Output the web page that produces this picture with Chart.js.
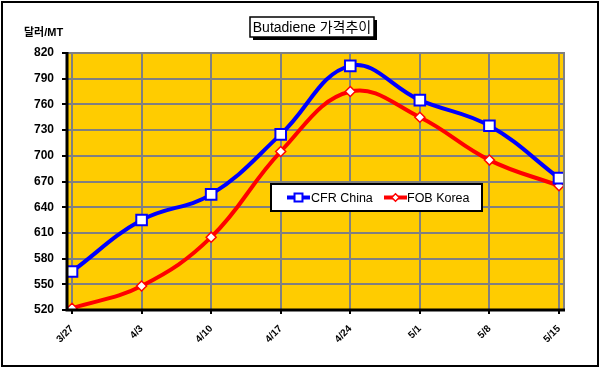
<!DOCTYPE html>
<html>
<head>
<meta charset="utf-8">
<script src="https://cdn.jsdelivr.net/npm/chart.js@4.4.1/dist/chart.umd.min.js"></script>
<style>
  html, body { margin: 0; padding: 0; background: #fff; }
  canvas { display: block; }
</style>
</head>
<body>
<canvas id="bd-chart" width="601" height="370"></canvas>
<script>
// chart data
const weeks = ['3/27', '4/3', '4/10', '4/17', '4/24', '5/1', '5/8', '5/15'];
const cfrChina = [565, 625, 655, 725, 805, 765, 735, 674];
const fobKorea = [522, 548, 605, 705, 775, 745, 695, 665];
const yTicks = [520, 550, 580, 610, 640, 670, 700, 730, 760, 790, 820];

const titleText = 'Butadiene 가격추이';
const unitText = '달러/MT';
const latin = '"Liberation Sans", Arial, sans-serif';
const hangul = '"Liberation Sans", "Noto Sans CJK KR", sans-serif';

// background, frame, title, unit label, legend
const decorations = {
    id: 'decorations',
    beforeDraw(chart) {
        const ctx = chart.ctx;
        const a = chart.chartArea;
        ctx.save();
        ctx.fillStyle = '#fff';
        ctx.fillRect(0, 0, chart.width, chart.height);
        ctx.strokeStyle = '#000';
        ctx.lineWidth = 2;
        ctx.strokeRect(2, 2, 596, 364);
        ctx.fillStyle = '#FFCC00';
        ctx.fillRect(a.left, a.top, a.right - a.left, a.bottom - a.top);
        ctx.restore();
    },
    afterDatasetsDraw(chart) {
        const ctx = chart.ctx;
        const a = chart.chartArea;
        ctx.save();
        // plot frame
        ctx.strokeStyle = '#808080';
        ctx.lineWidth = 2;
        ctx.beginPath();
        ctx.moveTo(a.left, a.top);
        ctx.lineTo(a.right, a.top);
        ctx.lineTo(a.right, a.bottom);
        ctx.stroke();
        ctx.strokeStyle = '#000';
        ctx.lineWidth = 3;
        ctx.beginPath();
        ctx.moveTo(a.left, a.top - 1);
        ctx.lineTo(a.left, a.bottom);
        ctx.lineTo(a.right + 1, a.bottom);
        ctx.stroke();

        // title box with shadow
        ctx.font = '14px ' + hangul;
        const tw = ctx.measureText(titleText).width;
        const cx = 312, cy = 27;
        const bx = Math.round(cx - tw / 2 - 3), bw = Math.round(tw + 6);
        ctx.fillStyle = '#000';
        ctx.fillRect(bx + 3, 20, bw, 20);
        ctx.fillStyle = '#fff';
        ctx.fillRect(bx, 17, bw, 20);
        ctx.lineWidth = 1.5;
        ctx.strokeRect(bx, 17, bw, 20);
        ctx.fillStyle = '#000';
        ctx.textAlign = 'center';
        ctx.textBaseline = 'middle';
        ctx.fillText(titleText, cx, cy + 1);

        // unit label
        ctx.font = 'bold 11px ' + hangul;
        ctx.textAlign = 'left';
        ctx.fillText(unitText, 24, 33);

        // legend
        const lx = 271, ly = 184, lw = 211, lh = 27;
        ctx.fillStyle = '#fff';
        ctx.fillRect(lx, ly, lw, lh);
        ctx.strokeStyle = '#000';
        ctx.lineWidth = 2;
        ctx.strokeRect(lx, ly, lw, lh);
        const my = ly + lh / 2;
        const entries = [
            { ds: chart.data.datasets[0], x0: 287, x1: 310, tx: 311 },
            { ds: chart.data.datasets[1], x0: 384, x1: 407, tx: 407 }
        ];
        ctx.font = '12.5px ' + latin;
        entries.forEach(e => {
            ctx.strokeStyle = e.ds.borderColor;
            ctx.lineWidth = 4;
            ctx.beginPath();
            ctx.moveTo(e.x0, my);
            ctx.lineTo(e.x1, my);
            ctx.stroke();
            ctx.fillStyle = e.ds.pointBackgroundColor;
            ctx.strokeStyle = e.ds.pointBorderColor;
            ctx.lineWidth = e.ds.pointBorderWidth;
            Chart.helpers.drawPoint(ctx, {
                pointStyle: e.ds.pointStyle,
                radius: e.ds.pointRadius * 0.75,
                borderWidth: e.ds.pointBorderWidth
            }, (e.x0 + e.x1) / 2, my);
            ctx.fillStyle = '#000';
            ctx.textAlign = 'left';
            ctx.fillText(e.ds.label, e.tx, my + 1);
        });
        ctx.restore();
    }
};

const ctx = document.getElementById('bd-chart').getContext('2d');
const chart = new Chart(ctx, {
    type: 'line',
    data: {
        datasets: [
            {
                label: 'CFR China',
                data: cfrChina.map((v, i) => ({ x: i, y: v })),
                borderColor: '#0000FF',
                borderWidth: 4,
                tension: 0.4,
                pointStyle: 'rect',
                pointRadius: 7.5,
                pointBackgroundColor: '#fff',
                pointBorderColor: '#0000FF',
                pointBorderWidth: 2
            },
            {
                label: 'FOB Korea',
                data: fobKorea.map((v, i) => ({ x: i, y: v })),
                borderColor: '#FF0000',
                borderWidth: 4,
                tension: 0.4,
                pointStyle: 'rectRot',
                pointRadius: 5,
                pointBackgroundColor: '#fff',
                pointBorderColor: '#FF0000',
                pointBorderWidth: 1.5
            }
        ]
    },
    options: {
        responsive: false,
        animation: false,
        layout: { padding: { left: 0, top: 53, right: 37, bottom: 0 } },
        plugins: {
            legend: { display: false },
            tooltip: { enabled: false }
        },
        scales: {
            x: {
                type: 'linear',
                min: -0.072,
                max: 7.072,
                afterBuildTicks: axis => {
                    axis.ticks = weeks.map((w, i) => ({ value: i }));
                },
                afterFit: axis => { axis.height = 60; },
                grid: {
                    color: '#808080',
                    lineWidth: 2,
                    tickColor: '#000',
                    tickLength: 4,
                    drawTicks: true
                },
                border: { display: false },
                ticks: {
                    callback: v => weeks[v],
                    minRotation: 45,
                    maxRotation: 45,
                    color: '#000',
                    padding: 9,
                    font: { family: latin, size: 10, weight: 'bold' }
                }
            },
            y: {
                min: 520,
                max: 820,
                afterBuildTicks: axis => {
                    axis.ticks = yTicks.map(v => ({ value: v }));
                },
                afterFit: axis => { axis.width = 67; },
                grid: {
                    color: '#808080',
                    lineWidth: 2,
                    tickColor: '#000',
                    tickLength: 5
                },
                border: { display: false },
                ticks: {
                    color: '#000',
                    padding: 8,
                    font: { family: latin, size: 12, weight: 'bold' }
                }
            }
        }
    },
    plugins: [decorations]
});
</script>
</body>
</html>
